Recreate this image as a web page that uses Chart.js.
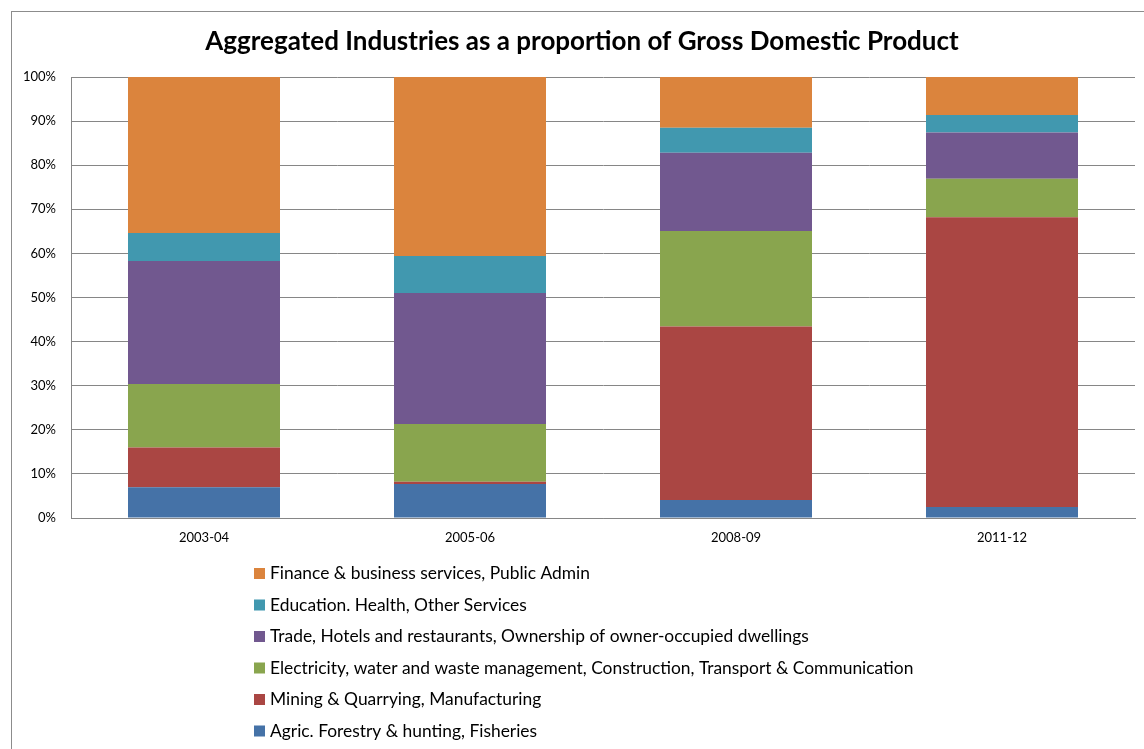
<!DOCTYPE html>
<html>
<head>
<meta charset="utf-8">
<script src="https://cdn.jsdelivr.net/npm/chart.js@4.4.1/dist/chart.umd.min.js"></script>
<style>
  html, body { margin: 0; padding: 0; background: #fff; overflow: hidden; }
  #wrap { position: relative; width: 1144px; height: 749px; }
  #frame { position: absolute; left: 11px; top: 11px; width: 1200px; height: 800px; border: 1px solid #8c8c8c; box-sizing: border-box; pointer-events: none; }
  canvas { position: absolute; left: 0; top: 0; }
</style>
</head>
<body>
<div id="wrap">
  <canvas id="chart" width="1144" height="749"></canvas>
  <div id="frame"></div>
</div>
<script>
// Периоды и доли отраслей (в %), снизу вверх по стеку
const periods = ['2003-04', '2005-06', '2008-09', '2011-12'];
const agric = [7.0, 7.7, 4.1, 2.5];
const mining = [9.0, 0.5, 39.3, 65.7];
const electricity = [14.4, 13.1, 21.7, 8.7];
const trade = [27.9, 29.7, 17.7, 10.5];
const education = [6.3, 8.4, 5.7, 4.0];
const finance = [35.4, 40.6, 11.5, 8.6];
const yTicks = [0, 10, 20, 30, 40, 50, 60, 70, 80, 90, 100];

const FONT = 'Lato, "Open Sans", sans-serif';

// Легенда в столбик, в обратном порядке
const stackLegend = {
    id: 'stackLegend',
    afterDraw(chart) {
        const ctx = chart.ctx;
        const sets = chart.data.datasets.slice().reverse();
        ctx.save();
        ctx.font = '17.4px ' + FONT;
        ctx.textBaseline = 'middle';
        ctx.textAlign = 'left';
        sets.forEach((ds, i) => {
            const y = 573.5 + i * 31.5;
            ctx.fillStyle = ds.backgroundColor;
            ctx.fillRect(254, y - 5.5, 11, 11);
            ctx.fillStyle = '#000';
            ctx.fillText(ds.label, 270, y);
        });
        ctx.restore();
    }
};

const ctx = document.getElementById('chart').getContext('2d');
const chart = new Chart(ctx, {
    type: 'bar',
    data: {
        labels: periods,
        datasets: [
            { label: 'Agric. Forestry & hunting, Fisheries', data: agric, backgroundColor: '#4572A7' },
            { label: 'Mining & Quarrying, Manufacturing', data: mining, backgroundColor: '#AA4643' },
            { label: 'Electricity, water and waste management, Construction, Transport & Communication', data: electricity, backgroundColor: '#89A54E' },
            { label: 'Trade, Hotels and restaurants, Ownership of owner-occupied dwellings', data: trade, backgroundColor: '#71588F' },
            { label: 'Education. Health, Other Services', data: education, backgroundColor: '#4198AF' },
            { label: 'Finance & business services, Public Admin', data: finance, backgroundColor: '#DB843D' }
        ]
    },
    options: {
        responsive: false,
        animation: false,
        layout: { padding: { top: 77, right: 9, left: 0, bottom: 0 } },
        datasets: { bar: { categoryPercentage: 1, barPercentage: 0.5714, borderWidth: 0 } },
        plugins: {
            legend: { display: false },
            tooltip: { enabled: false },
            title: { display: false }
        },
        scales: {
            x: {
                stacked: true,
                grid: { display: false, drawTicks: false },
                border: { display: true, color: '#868686' },
                ticks: { color: '#000', font: { family: FONT, size: 13 }, padding: 12, maxRotation: 0 },
                afterFit(scale) { scale.height = 749 - 518; }
            },
            y: {
                stacked: true,
                min: 0,
                max: 100,
                afterBuildTicks(scale) { scale.ticks = yTicks.map(v => ({ value: v })); },
                grid: { color: '#868686', drawTicks: false },
                border: { display: true, color: '#868686' },
                ticks: { color: '#000', font: { family: FONT, size: 13 }, padding: 15, callback: v => v + '%' },
                afterFit(scale) { scale.width = 71; }
            }
        }
    },
    plugins: [stackLegend, {
        id: 'topTitle',
        afterDraw(chart) {
            const c = chart.ctx;
            c.save();
            c.font = 'bold 26px ' + FONT;
            c.fillStyle = '#000';
            c.textAlign = 'center';
            c.textBaseline = 'middle';
            c.fillText('Aggregated Industries as a proportion of Gross Domestic Product', 582, 42);
            c.restore();
        }
    }]
});
</script>
</body>
</html>
